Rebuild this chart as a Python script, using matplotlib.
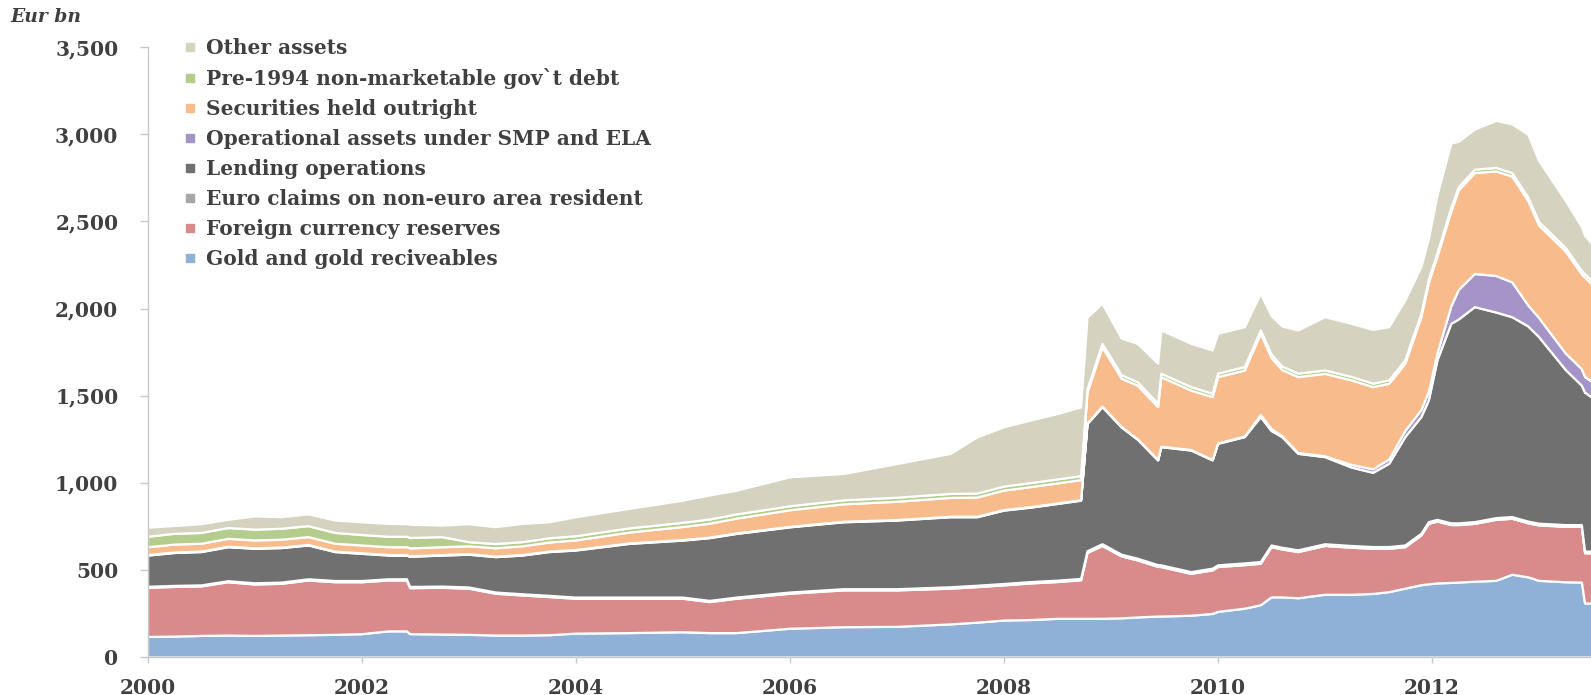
import matplotlib
matplotlib.use("Agg")
import matplotlib.pyplot as plt
from matplotlib.lines import Line2D
from matplotlib.ticker import FuncFormatter
import numpy as np

# Eurosystem balance sheet, assets side (EUR bn)
years = [2000.00, 2000.25, 2000.50, 2000.75, 2001.00, 2001.25, 2001.50, 2001.75,
         2002.00, 2002.25, 2002.42, 2002.45, 2002.75, 2003.00, 2003.25, 2003.50,
         2003.75, 2004.00, 2004.50, 2005.00, 2005.25, 2005.50, 2006.00, 2006.50,
         2007.00, 2007.50, 2007.75, 2008.00, 2008.25, 2008.50, 2008.72, 2008.78,
         2008.92, 2009.10, 2009.25, 2009.44, 2009.47, 2009.75, 2009.95, 2010.00,
         2010.25, 2010.40, 2010.50, 2010.60, 2010.75, 2011.00, 2011.25, 2011.45,
         2011.60, 2011.75, 2011.90, 2011.97, 2012.05, 2012.18, 2012.25, 2012.40,
         2012.60, 2012.75, 2012.90, 2013.00, 2013.25, 2013.40, 2013.43, 2013.50]

# layer values
gold = [118, 120, 124, 126, 124, 126, 128, 130, 134, 150, 150, 134, 132, 130, 126, 126,
        128, 137, 140, 145, 140, 140, 165, 174, 176, 190, 200, 212, 215, 222, 222, 222,
        222, 225, 230, 235, 235, 240, 250, 262, 280, 300, 345, 345, 340, 360, 360, 365,
        375, 395, 415, 420, 425, 428, 430, 435, 440, 475, 460, 440, 432, 430, 310, 310]
euro_claims = [6, 6, 6, 6, 7, 7, 7, 7, 7, 7, 7, 7, 7, 7, 7, 7,
               7, 7, 7, 7, 7, 7, 7, 7, 7, 8, 8, 8, 8, 8, 8, 10,
               10, 10, 10, 10, 10, 10, 10, 10, 10, 10, 10, 10, 10, 10, 10, 10,
               10, 10, 10, 10, 10, 10, 10, 10, 10, 10, 10, 10, 10, 10, 10, 10]
smp_ela = [3, 3, 3, 3, 3, 3, 3, 3, 3, 3, 3, 3, 3, 3, 3, 3,
           3, 3, 3, 3, 3, 3, 3, 3, 3, 3, 3, 3, 3, 3, 3, 3,
           3, 3, 3, 3, 3, 3, 3, 3, 3, 12, 12, 5, 5, 5, 15, 20,
           25, 35, 40, 50, 40, 100, 170, 190, 210, 200, 120, 110, 95, 95, 90, 90]
gov_debt = [60, 62, 62, 62, 62, 63, 63, 62, 60, 60, 60, 60, 58, 24, 24, 24,
            24, 24, 24, 24, 24, 24, 23, 23, 23, 23, 23, 23, 23, 23, 23, 20,
            20, 20, 20, 20, 20, 20, 20, 20, 20, 20, 20, 20, 20, 20, 20, 20,
            20, 20, 20, 20, 20, 20, 20, 20, 20, 20, 20, 20, 20, 20, 20, 20]

# stacked levels (top edge of a layer)
fx_top = [400, 405, 408, 432, 419, 423, 442, 432, 432, 442, 442, 398, 400, 395, 366, 356,
          347, 337, 337, 337, 318, 337, 366, 385, 385, 395, 404, 414, 425, 433, 443, 600,
          640, 580, 557, 520, 519, 480, 500, 519, 530, 538, 633, 620, 605, 640, 630, 624,
          624, 633, 700, 767, 780, 760, 760, 767, 790, 796, 770, 758, 750, 750, 598, 598]
lending_top = [585, 600, 605, 633, 624, 628, 643, 605, 595, 585, 585, 578, 585, 590, 576, 585,
               605, 614, 652, 671, 685, 709, 747, 776, 786, 805, 805, 843, 860, 881, 900, 1340,
               1437, 1320, 1250, 1131, 1207, 1188, 1131, 1226, 1265, 1380, 1300, 1265, 1169, 1150, 1090, 1060,
               1112, 1265, 1380, 1475, 1705, 1915, 1940, 2011, 1980, 1953, 1900, 1839, 1650, 1560, 1520, 1490]
securities_top = [633, 648, 653, 681, 672, 676, 691, 653, 643, 633, 633, 626, 633, 638, 627, 638,
                  660, 672, 717, 749, 768, 797, 845, 879, 894, 916, 918, 958, 978, 999, 1018, 1520,
                  1780, 1600, 1560, 1437, 1609, 1532, 1494, 1609, 1647, 1858, 1720, 1650, 1609, 1628, 1590, 1552,
                  1571, 1686, 1953, 2150, 2300, 2560, 2680, 2780, 2790, 2760, 2620, 2480, 2330, 2200, 2180, 2140]
total = [745, 755, 765, 790, 810, 805, 822, 786, 776, 767, 765, 762, 757, 765, 748, 767,
         776, 805, 853, 900, 930, 957, 1034, 1053, 1110, 1168, 1263, 1321, 1360, 1397, 1435, 1950,
         2030, 1830, 1800, 1686, 1877, 1800, 1762, 1858, 1896, 2087, 1960, 1900, 1877, 1953, 1915, 1880,
         1896, 2049, 2240, 2400, 2650, 2950, 2960, 3030, 3080, 3060, 3000, 2850, 2620, 2470, 2420, 2370]

labels = ["Gold and gold reciveables", "Foreign currency reserves",
          "Euro claims on non-euro area resident", "Lending operations",
          "Operational assets under SMP and ELA", "Securities held outright",
          "Pre-1994 non-marketable gov`t debt", "Other assets"]
colors = ["#8fb0d7", "#d98a8b", "#a6a6a6", "#707070",
          "#a594c8", "#f8bb8c", "#b5cd8c", "#d5d2bf"]

gold_a = np.array(gold, float)
fx = np.array(fx_top) - gold_a
claims = np.array(euro_claims, float)
lending = np.array(lending_top) - np.array(fx_top) - claims
smp = np.array(smp_ela, float)
securities = np.array(securities_top) - np.array(lending_top) - smp
govd = np.array(gov_debt, float)
other = np.array(total) - np.array(securities_top) - govd
layers = [gold_a, fx, claims, lending, smp, securities, govd, other]

text_col = "#404040"
font = dict(family="DejaVu Serif", weight="bold", color=text_col)

fig = plt.figure(figsize=(15.91, 6.95), dpi=100)
ax = fig.add_axes([147.5 / 1591, 38 / 695, 1 - 147.5 / 1591, (657 - 47.2) / 695])

ax.stackplot(years, *layers, colors=colors, edgecolor="white", linewidth=1.6)

ax.set_xlim(2000, 2013.49)
ax.set_ylim(0, 3500)
ax.set_xticks(range(2000, 2014, 2))
ax.set_yticks(range(0, 3501, 500))
ax.yaxis.set_major_formatter(FuncFormatter(lambda v, p: f"{int(v):,}"))

for s in ["top", "right"]:
    ax.spines[s].set_visible(False)
for s in ["left", "bottom"]:
    ax.spines[s].set_color("#c8c8c8")
    ax.spines[s].set_linewidth(1.0)
ax.tick_params(axis="y", direction="out", length=6, width=1, color="#c8c8c8", pad=15)
ax.tick_params(axis="x", direction="out", length=4, width=1, color="#c8c8c8", pad=11)
for lab in ax.get_xticklabels() + ax.get_yticklabels():
    lab.set_fontfamily("DejaVu Serif")
    lab.set_fontweight("bold")
    lab.set_fontsize(14.5)
    lab.set_color(text_col)

fig.text(10 / 1591, 1 - 17 / 695, "Eur bn", fontsize=13.5, style="italic",
         va="center", ha="left", **font)

handles = [Line2D([0], [0], marker="s", linestyle="", markersize=5.5,
                  markerfacecolor=c, markeredgecolor=c) for c in colors]
leg = fig.legend(handles[::-1], labels[::-1], loc="upper left",
                 bbox_to_anchor=(183 / 1591, 1 - 38 / 695), frameon=False,
                 handlelength=0.7, handletextpad=0.45, borderpad=0,
                 borderaxespad=0, labelspacing=0.5,
                 prop=dict(family="DejaVu Serif", weight="bold", size=14.5))
for t in leg.get_texts():
    t.set_color(text_col)

fig.savefig("out.png", dpi=100)
